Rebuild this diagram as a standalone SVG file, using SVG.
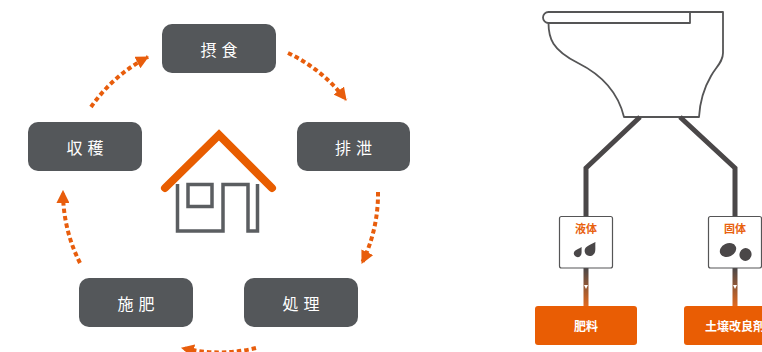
<svg xmlns="http://www.w3.org/2000/svg" width="762" height="352" viewBox="0 0 762 352">
  <style>
    .node rect { fill: #54575a; }
    .node text { fill: #ffffff; font-family: "Noto Sans CJK JP", "Noto Sans", sans-serif; font-size: 16px; letter-spacing: 5px; text-anchor: middle; dominant-baseline: central; }
    .cyc { fill: none; stroke: #e85d0c; stroke-width: 4; stroke-dasharray: 4.5 3; marker-end: url(#head); }
    .outline { fill: none; stroke: #555556; stroke-width: 1.8; stroke-linejoin: round; }
    .pipe { fill: none; stroke: #4a4748; stroke-width: 5; stroke-linejoin: miter; }
    .tag rect { fill: #ffffff; stroke: #555556; stroke-width: 1.2; }
    .tag text { fill: #e8610e; font-family: "Noto Sans CJK JP", sans-serif; font-size: 11px; font-weight: bold; text-anchor: middle; }
    .out rect { fill: #e95d04; }
    .out text { fill: #ffffff; font-family: "Noto Sans CJK JP", sans-serif; font-size: 12px; font-weight: bold; text-anchor: middle; dominant-baseline: central; }
  </style>
  <defs>
    <marker id="head" markerUnits="userSpaceOnUse" markerWidth="13" markerHeight="13" viewBox="0 0 12 12" refX="11" refY="6" orient="auto">
      <path d="M0,0 L12,6 L0,12 z" fill="#e85d0c"/>
    </marker>
    <linearGradient id="fade" x1="0" y1="0" x2="0" y2="1">
      <stop offset="0" stop-color="#4a4748"/>
      <stop offset="1" stop-color="#e0691f"/>
    </linearGradient>
  </defs>

  <!-- cycle nodes -->
  <g id="node-sesshoku" class="node">
    <rect x="162" y="24" width="114" height="49" rx="10"/>
    <text x="221.5" y="49">摂食</text>
  </g>
  <g id="node-haisetsu" class="node">
    <rect x="297" y="122" width="113" height="49" rx="10"/>
    <text x="356" y="147">排泄</text>
  </g>
  <g id="node-shori" class="node">
    <rect x="244" y="278" width="114" height="49" rx="10"/>
    <text x="303.5" y="303">処理</text>
  </g>
  <g id="node-sehi" class="node">
    <rect x="79" y="278" width="114" height="49" rx="10"/>
    <text x="138.5" y="303">施肥</text>
  </g>
  <g id="node-shukaku" class="node">
    <rect x="28" y="122" width="114" height="49" rx="10"/>
    <text x="87.5" y="147">収穫</text>
  </g>

  <!-- cycle connectors -->
  <g id="cycle-connectors">
    <path class="cyc" d="M91,107 A157,157 0 0 1 148,57"/>
    <path class="cyc" d="M288,53 A157,157 0 0 1 346,100"/>
    <path class="cyc" d="M378,192 A157,157 0 0 1 362,263"/>
    <path class="cyc" d="M256,348 A157,157 0 0 1 182,348"/>
    <path class="cyc" d="M80,263 A157,157 0 0 1 63,191"/>
  </g>

  <!-- house in the centre -->
  <g id="house">
    <path d="M177.5,184 V231 H223 V184.5 H248 V231 H257.5 V184" fill="none" stroke="#5b5e61" stroke-width="3.5" stroke-linejoin="miter"/>
    <rect x="188" y="184.5" width="24" height="22" fill="none" stroke="#5b5e61" stroke-width="3.5"/>
    <path d="M165,188 L219,135 L272,188" fill="none" stroke="#e85d00" stroke-width="8" stroke-linecap="round" stroke-linejoin="miter"/>
  </g>

  <!-- toilet -->
  <g id="toilet">
    <path class="outline" d="M548.5,12 H723 V53 C723,62 716,67 711,76 C704,88 700,100 699,117 H624 C618,92 600,74 578,63 C552,50 548.5,38 548.5,23"/>
    <path class="outline" d="M548.5,12 H690 V23 H548.5 A5.5,5.5 0 0 1 548.5,12 z" fill="#ffffff"/>
  </g>

  <!-- pipes -->
  <g id="pipe-connectors">
    <path class="pipe" d="M640,117 L586,168 V216"/>
    <path class="pipe" d="M680,117 L735,168 V216"/>
    <rect x="583.5" y="268" width="5" height="38" fill="url(#fade)"/>
    <rect x="732.5" y="268" width="5" height="38" fill="url(#fade)"/>
    <path d="M584,285 H588 L586,289 z" fill="#ffffff"/>
    <path d="M733,285 H737 L735,289 z" fill="#ffffff"/>
  </g>

  <!-- separation labels -->
  <g id="tag-liquid" class="tag">
    <rect x="559.5" y="216.5" width="53" height="51.5" rx="2"/>
    <text x="586" y="233">液体</text>
    <path d="M0,-8 C2,-4 5,-1 5,2 A5,5 0 0 1 -5,2 C-5,-1 -2,-4 0,-8 z" fill="#4a4748" transform="translate(578.5,252) rotate(32) scale(0.75)"/>
    <path d="M0,-8 C2,-4 5,-1 5,2 A5,5 0 0 1 -5,2 C-5,-1 -2,-4 0,-8 z" fill="#4a4748" transform="translate(591,249) rotate(32) scale(1.05)"/>
  </g>
  <g id="tag-solid" class="tag">
    <rect x="708.5" y="216.5" width="53" height="51.5" rx="2"/>
    <text x="735" y="233">固体</text>
    <ellipse cx="728" cy="250" rx="8.5" ry="6.5" transform="rotate(-25 728 250)" fill="#4a4748"/>
    <ellipse cx="745.5" cy="254.5" rx="6" ry="6.5" transform="rotate(20 745.5 254.5)" fill="#4a4748"/>
  </g>

  <!-- products -->
  <g id="out-fertilizer" class="out">
    <rect x="535" y="306" width="102" height="39" rx="3"/>
    <text x="586" y="325.5">肥料</text>
  </g>
  <g id="out-soil" class="out">
    <rect x="684" y="306" width="102" height="39" rx="3"/>
    <text x="735" y="325.5">土壌改良剤</text>
  </g>
</svg>
